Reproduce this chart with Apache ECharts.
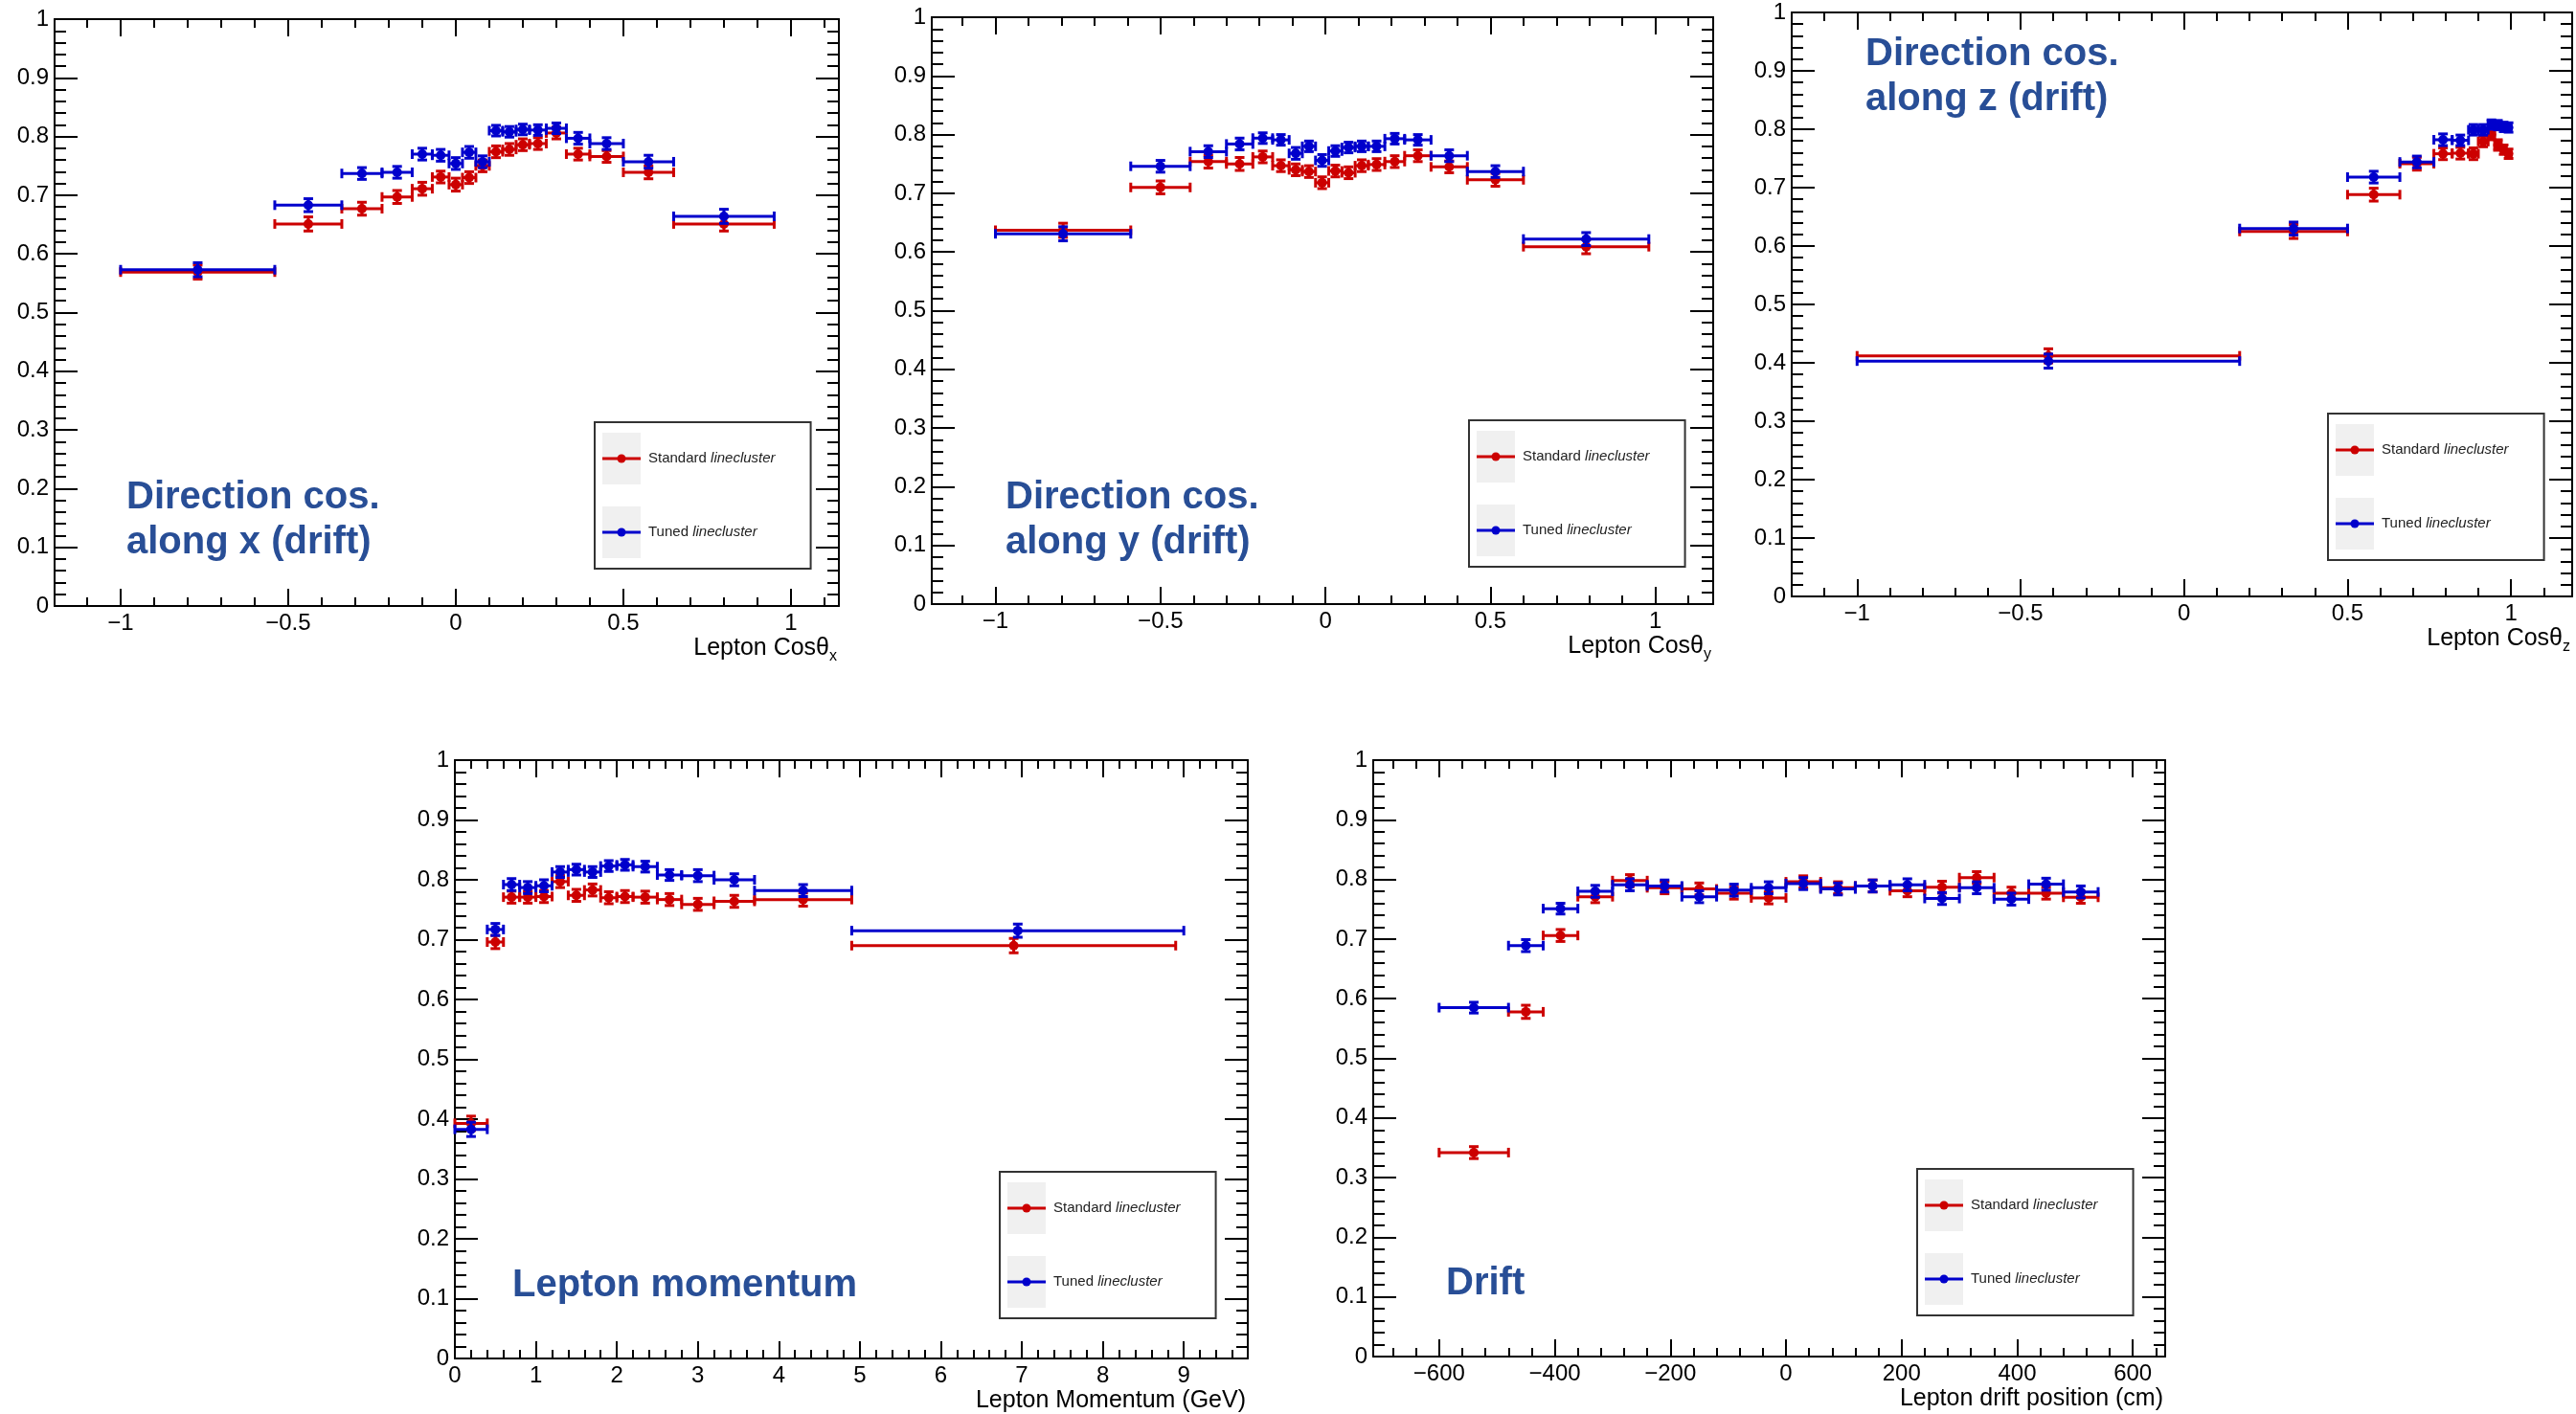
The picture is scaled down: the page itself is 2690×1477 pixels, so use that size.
<!DOCTYPE html>
<html>
<head>
<meta charset="utf-8">
<script src="https://cdn.jsdelivr.net/npm/echarts@6.0.0/dist/echarts.min.js"></script>
<style>
html,body{margin:0;padding:0;background:#ffffff;}
#chart{width:2690px;height:1477px;}
</style>
</head>
<body>
<div id="chart"></div>
<script>
// ---------------- DATA ----------------
// Panel 1: Lepton Cos(theta_x)
const cosxEdges = [-1.0, -0.54, -0.34, -0.22, -0.13, -0.07, -0.02, 0.02, 0.06, 0.10, 0.14, 0.18, 0.22, 0.27, 0.33, 0.40, 0.50, 0.65, 0.95];
const cosxStd   = [0.569, 0.651, 0.677, 0.697, 0.711, 0.731, 0.718, 0.730, 0.750, 0.774, 0.778, 0.786, 0.788, 0.806, 0.770, 0.766, 0.739, 0.651];
const cosxTuned = [0.573, 0.683, 0.737, 0.739, 0.770, 0.768, 0.754, 0.773, 0.757, 0.810, 0.808, 0.812, 0.811, 0.814, 0.797, 0.788, 0.757, 0.664];
const cosxStdErr   = [0.012, 0.012, 0.011, 0.011, 0.011, 0.010, 0.011, 0.010, 0.010, 0.010, 0.010, 0.010, 0.010, 0.010, 0.010, 0.010, 0.011, 0.012];
const cosxTunedErr = [0.012, 0.011, 0.010, 0.010, 0.010, 0.010, 0.010, 0.010, 0.010, 0.009, 0.009, 0.009, 0.009, 0.009, 0.010, 0.010, 0.011, 0.012];

// Panel 2: Lepton Cos(theta_y)
const cosyEdges = [-1.0, -0.59, -0.41, -0.30, -0.22, -0.16, -0.11, -0.07, -0.03, 0.01, 0.05, 0.09, 0.13, 0.18, 0.24, 0.32, 0.43, 0.60, 0.98];
const cosyStd   = [0.637, 0.710, 0.754, 0.750, 0.762, 0.747, 0.740, 0.737, 0.718, 0.738, 0.735, 0.747, 0.749, 0.754, 0.764, 0.745, 0.723, 0.609];
const cosyTuned = [0.631, 0.746, 0.771, 0.784, 0.794, 0.791, 0.768, 0.780, 0.756, 0.772, 0.778, 0.780, 0.780, 0.793, 0.791, 0.764, 0.737, 0.622];
const cosyStdErr   = [0.012, 0.011, 0.011, 0.011, 0.010, 0.010, 0.010, 0.010, 0.010, 0.010, 0.010, 0.010, 0.010, 0.010, 0.010, 0.010, 0.011, 0.012];
const cosyTunedErr = [0.012, 0.010, 0.010, 0.010, 0.009, 0.009, 0.010, 0.009, 0.010, 0.009, 0.009, 0.009, 0.009, 0.009, 0.009, 0.010, 0.010, 0.011];

// Panel 3: Lepton Cos(theta_z)
const coszEdges = [-1.0, 0.17, 0.50, 0.66, 0.764, 0.82, 0.87, 0.90, 0.93, 0.95, 0.97, 0.985, 1.0];
const coszStd   = [0.412, 0.625, 0.688, 0.741, 0.758, 0.759, 0.758, 0.779, 0.791, 0.773, 0.765, 0.758];
const coszTuned = [0.403, 0.630, 0.718, 0.744, 0.782, 0.781, 0.799, 0.799, 0.808, 0.807, 0.804, 0.803];
const coszStdErr   = [0.012, 0.012, 0.011, 0.011, 0.010, 0.010, 0.010, 0.009, 0.009, 0.009, 0.008, 0.008];
const coszTunedErr = [0.012, 0.011, 0.010, 0.010, 0.010, 0.009, 0.009, 0.009, 0.008, 0.008, 0.008, 0.008];

// Panel 4: Lepton momentum (GeV)
const momEdgesStd   = [0, 0.4, 0.6, 0.8, 1.0, 1.2, 1.4, 1.6, 1.8, 2.0, 2.2, 2.5, 2.8, 3.2, 3.7, 4.9, 8.9];
const momEdgesTuned = [0, 0.4, 0.6, 0.8, 1.0, 1.2, 1.4, 1.6, 1.8, 2.0, 2.2, 2.5, 2.8, 3.2, 3.7, 4.9, 9.0];
const momStd   = [0.393, 0.696, 0.771, 0.771, 0.772, 0.797, 0.774, 0.783, 0.770, 0.772, 0.771, 0.767, 0.759, 0.764, 0.767, 0.690];
const momTuned = [0.383, 0.717, 0.792, 0.787, 0.790, 0.813, 0.817, 0.813, 0.823, 0.825, 0.822, 0.808, 0.807, 0.800, 0.782, 0.715];
const momStdErr   = [0.012, 0.011, 0.010, 0.010, 0.010, 0.010, 0.010, 0.010, 0.010, 0.010, 0.010, 0.010, 0.010, 0.010, 0.011, 0.012];
const momTunedErr = [0.012, 0.010, 0.010, 0.010, 0.010, 0.009, 0.009, 0.009, 0.009, 0.009, 0.009, 0.009, 0.010, 0.010, 0.010, 0.011];

// Panel 5: Lepton drift position (cm)
const driftEdges = [-600, -480, -420, -360, -300, -240, -180, -120, -60, 0, 60, 120, 180, 240, 300, 360, 420, 480, 540];
const driftStd   = [0.342, 0.578, 0.706, 0.771, 0.798, 0.786, 0.784, 0.777, 0.769, 0.796, 0.786, 0.789, 0.781, 0.787, 0.803, 0.777, 0.777, 0.770];
const driftTuned = [0.585, 0.689, 0.751, 0.780, 0.791, 0.789, 0.771, 0.782, 0.786, 0.793, 0.784, 0.789, 0.791, 0.768, 0.786, 0.767, 0.792, 0.779];
const driftStdErr   = [0.010, 0.011, 0.010, 0.010, 0.010, 0.010, 0.010, 0.010, 0.010, 0.010, 0.010, 0.010, 0.010, 0.010, 0.010, 0.010, 0.010, 0.010];
const driftTunedErr = [0.009, 0.010, 0.009, 0.010, 0.010, 0.010, 0.010, 0.010, 0.010, 0.010, 0.010, 0.010, 0.010, 0.010, 0.010, 0.010, 0.010, 0.010];

// Tick labels
const cosTickLabels   = [-1, -0.5, 0, 0.5, 1];
const momTickLabels   = [0, 1, 2, 3, 4, 5, 6, 7, 8, 9];
const driftTickLabels = [-600, -400, -200, 0, 200, 400, 600];

const seriesNames = ['Standard linecluster', 'Tuned linecluster'];

// ---------------- STYLE / LAYOUT ----------------
const FONT = 'Liberation Sans';
const RED = '#cc0000', BLUE = '#0000cc', NOTE = '#284e96';

const panels = [
  { grid: {left: 57, top: 20, width: 819, height: 613}, xmin: -1.197, xmax: 1.143,
    major: cosTickLabels, minorStep: 0.1, name: 'Lepton Cosθ{s|x}',
    eStd: cosxEdges, eTun: cosxEdges, std: cosxStd, tun: cosxTuned, sErr: cosxStdErr, tErr: cosxTunedErr,
    note: 'Direction cos.\nalong x (drift)', noteX: 132, noteY: 496, leg: [621, 441] },
  { grid: {left: 973, top: 18, width: 816, height: 613}, xmin: -1.193, xmax: 1.175,
    major: cosTickLabels, minorStep: 0.1, name: 'Lepton Cosθ{s|y}',
    eStd: cosyEdges, eTun: cosyEdges, std: cosyStd, tun: cosyTuned, sErr: cosyStdErr, tErr: cosyTunedErr,
    note: 'Direction cos.\nalong y (drift)', noteX: 1050, noteY: 496, leg: [1534, 439] },
  { grid: {left: 1871, top: 13, width: 815, height: 610}, xmin: -1.2, xmax: 1.187,
    major: cosTickLabels, minorStep: 0.1, name: 'Lepton Cosθ{s|z}',
    eStd: coszEdges, eTun: coszEdges, std: coszStd, tun: coszTuned, sErr: coszStdErr, tErr: coszTunedErr,
    note: 'Direction cos.\nalong z (drift)', noteX: 1948, noteY: 33, leg: [2431, 432] },
  { grid: {left: 475, top: 794, width: 828, height: 625}, xmin: 0, xmax: 9.79,
    major: momTickLabels, minorStep: 0.2, name: 'Lepton Momentum (GeV)',
    eStd: momEdgesStd, eTun: momEdgesTuned, std: momStd, tun: momTuned, sErr: momStdErr, tErr: momTunedErr,
    note: 'Lepton momentum', noteX: 535, noteY: 1319, leg: [1044, 1224] },
  { grid: {left: 1434, top: 794, width: 827, height: 623}, xmin: -714, xmax: 656,
    major: driftTickLabels, minorStep: 40, name: 'Lepton drift position (cm)',
    eStd: driftEdges, eTun: driftEdges, std: driftStd, tun: driftTuned, sErr: driftStdErr, tErr: driftTunedErr,
    note: 'Drift', noteX: 1510, noteY: 1317, leg: [2002, 1221] }
];

function minorValues(min, max, step, majors) {
  const out = [];
  const k0 = Math.ceil(min / step - 1e-9), k1 = Math.floor(max / step + 1e-9);
  for (let k = k0; k <= k1; k++) {
    const v = +(k * step).toFixed(6);
    if (!majors.some(m => Math.abs(m - v) < step * 1e-3)) out.push(v);
  }
  return out;
}
function fmtMinus(v) {
  const n = +(+v).toFixed(6);
  return n < 0 ? '\u2212' + String(-n) : String(n);
}
function buildData(edges, vals, errs) {
  return vals.map((v, i) => [(edges[i] + edges[i + 1]) / 2, v, edges[i], edges[i + 1], errs[i], errs[i]]);
}
function renderErr(params, api) {
  const x = api.value(0), y = api.value(1), xl = api.value(2), xh = api.value(3);
  const el = api.value(4), eh = api.value(5);
  const c = api.coord([x, y]);
  const l = api.coord([xl, y]);
  const h = api.coord([xh, y]);
  const t = api.coord([x, y + eh]);
  const b = api.coord([x, y - el]);
  const col = api.visual('color');
  const cap = 5;
  const ln = (x1, y1, x2, y2) => ({ type: 'line', shape: {x1, y1, x2, y2}, style: {stroke: col, lineWidth: 3, fill: null} });
  return { type: 'group', children: [
    ln(l[0], c[1], h[0], c[1]),
    ln(l[0], c[1] - cap, l[0], c[1] + cap),
    ln(h[0], c[1] - cap, h[0], c[1] + cap),
    ln(c[0], t[1], c[0], b[1]),
    ln(c[0] - cap, t[1], c[0] + cap, t[1]),
    ln(c[0] - cap, b[1], c[0] + cap, b[1]),
    { type: 'circle', shape: {cx: c[0], cy: c[1], r: 5}, style: {fill: col} }
  ]};
}
function legendIcon(color) {
  const svg = '<svg xmlns="http://www.w3.org/2000/svg" width="40" height="54" viewBox="0 0 40 54">' +
    '<rect x="0" y="0" width="40" height="54" fill="#f0f0f0"/>' +
    '<line x1="0" y1="27" x2="40" y2="27" stroke="' + color + '" stroke-width="3"/>' +
    '<circle cx="20" cy="27" r="4.5" fill="' + color + '"/></svg>';
  return 'image://data:image/svg+xml;charset=utf-8,' + encodeURIComponent(svg);
}

const lineSt = {color: '#000', width: 2};
const grid = [], xAxis = [], yAxis = [], series = [], legend = [], notes = [];

panels.forEach((p, i) => {
  grid.push(Object.assign({containLabel: false, outerBoundsMode: 'none'}, p.grid));
  const minors = minorValues(p.xmin, p.xmax, p.minorStep, p.major);
  const xb = {gridIndex: i, type: 'value', min: p.xmin, max: p.xmax, splitLine: {show: false}};
  xAxis.push(Object.assign({}, xb, {
    position: 'bottom',
    axisLine: {show: true, onZero: false, lineStyle: lineSt},
    axisTick: {show: true, inside: true, length: 18, customValues: p.major, lineStyle: lineSt},
    axisLabel: {show: true, customValues: p.major, formatter: fmtMinus, fontFamily: FONT, fontSize: 24, color: '#000', margin: 6},
    name: p.name, nameLocation: 'end', nameGap: 0, nameMoveOverlap: false,
    nameTextStyle: {fontFamily: FONT, fontSize: 25, color: '#000', align: 'right', verticalAlign: 'top',
      lineHeight: 34, padding: [27, 2, 0, 0],
      rich: {s: {fontFamily: FONT, fontSize: 16, color: '#000', lineHeight: 18, verticalAlign: 'bottom'}}}
  }));
  xAxis.push(Object.assign({}, xb, {
    position: 'bottom',
    axisLine: {show: false, onZero: false},
    axisTick: {show: true, inside: true, length: 9, customValues: minors, lineStyle: lineSt},
    axisLabel: {show: false}
  }));
  xAxis.push(Object.assign({}, xb, {
    position: 'top',
    axisLine: {show: true, onZero: false, lineStyle: lineSt},
    axisTick: {show: true, inside: true, length: 18, customValues: p.major, lineStyle: lineSt},
    axisLabel: {show: false}
  }));
  xAxis.push(Object.assign({}, xb, {
    position: 'top',
    axisLine: {show: false, onZero: false},
    axisTick: {show: true, inside: true, length: 9, customValues: minors, lineStyle: lineSt},
    axisLabel: {show: false}
  }));
  const yb = {gridIndex: i, type: 'value', min: 0, max: 1, interval: 0.1, splitLine: {show: false},
    axisLine: {show: true, onZero: false, lineStyle: lineSt},
    axisTick: {show: true, inside: true, length: 24, lineStyle: lineSt},
    minorTick: {show: true, splitNumber: 5, length: 12, lineStyle: lineSt}};
  yAxis.push(Object.assign({}, yb, {position: 'left',
    axisLabel: {show: true, fontFamily: FONT, fontSize: 24, color: '#000', margin: 6}}));
  yAxis.push(Object.assign({}, yb, {position: 'right', axisLabel: {show: false}}));

  series.push({type: 'custom', name: seriesNames[0], xAxisIndex: 4 * i, yAxisIndex: 2 * i,
    itemStyle: {color: RED}, renderItem: renderErr, encode: {x: 0, y: 1}, z: 2,
    data: buildData(p.eStd, p.std, p.sErr)});
  series.push({type: 'custom', name: seriesNames[1], xAxisIndex: 4 * i, yAxisIndex: 2 * i,
    itemStyle: {color: BLUE}, renderItem: renderErr, encode: {x: 0, y: 1}, z: 3,
    data: buildData(p.eTun, p.tun, p.tErr)});

  legend.push({
    orient: 'vertical', left: p.leg[0], top: p.leg[1],
    itemWidth: 40, itemHeight: 54, itemGap: 23, padding: [11, 37, 11, 8],
    backgroundColor: '#ffffff', borderColor: '#333333', borderWidth: 2, borderRadius: 0,
    selectedMode: false,
    data: [{name: seriesNames[0], icon: legendIcon(RED)}, {name: seriesNames[1], icon: legendIcon(BLUE)}],
    formatter: function (name) {
      const k = name.indexOf(' ');
      return '{a|' + name.slice(0, k) + '} {b|' + name.slice(k + 1) + '}';
    },
    textStyle: {fontFamily: FONT, fontSize: 15, color: '#222',
      rich: {a: {fontFamily: FONT, fontSize: 15, color: '#222', padding: [0, 0, 0, 3]},
             b: {fontFamily: FONT, fontSize: 15, color: '#222', fontStyle: 'italic'}}}
  });

  notes.push({type: 'text', x: p.noteX, y: p.noteY, z: 20,
    style: {text: p.note, fill: NOTE, fontFamily: FONT, fontSize: 40, fontWeight: 'bold', lineHeight: 47, verticalAlign: 'top'}});
});

const chart = echarts.init(document.getElementById('chart'), null, {renderer: 'canvas'});
chart.setOption({
  animation: false,
  backgroundColor: '#ffffff',
  grid: grid,
  xAxis: xAxis,
  yAxis: yAxis,
  legend: legend,
  series: series,
  graphic: {elements: notes}
});
</script>
</body>
</html>
